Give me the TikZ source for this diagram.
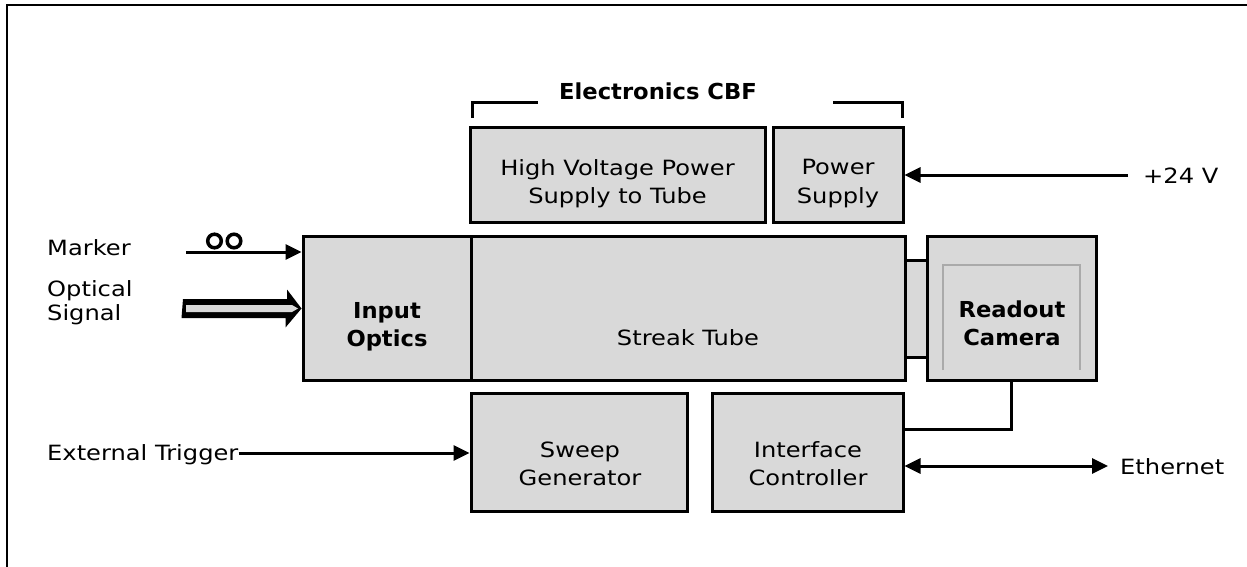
\documentclass[tikz,border=0pt]{standalone}
\usepackage{fontspec}
\setmainfont{DejaVu Sans}
\newfontfamily\rfont{DejaVu Sans}[FakeStretch=1.15]
\newfontfamily\bfont{DejaVu Sans}[FakeStretch=1.03]
\usetikzlibrary{arrows.meta}
\definecolor{boxgray}{RGB}{217,217,217}
\definecolor{framegray}{RGB}{170,170,170}
\begin{document}
\begin{tikzpicture}[x=1pt,y=-1pt,
  blk/.style={draw=black, line width=3pt, fill=boxgray, inner sep=0pt},
  txt/.style={inner sep=0pt, align=center, text depth=5pt, font=\rfont\fontsize{21}{28.5}\selectfont},
  ltxt/.style={inner sep=0pt, align=left, font=\rfont\fontsize{21}{24}\selectfont},
  btxt/.style={inner sep=0pt, align=center, text depth=5pt, font=\bfont\bfseries\fontsize{22}{28}\selectfont},
  wire/.style={line width=3pt},
  arr/.style={wire, -{Triangle[length=16pt,width=15pt]}},
  darr/.style={wire, {Triangle[length=16pt,width=15pt]}-{Triangle[length=16pt,width=15pt]}},
]
\useasboundingbox (0,0) rectangle (1247,567);
% frame
\draw[line width=2.5pt] (1247,5) -- (7,5) -- (7,567);

% blocks
\node[blk, minimum width=295, minimum height=94] (hv) at (617.5,175) {};
\node[blk, minimum width=130, minimum height=94] (ps) at (838,175) {};
\node[blk, minimum width=168, minimum height=144] (io) at (387,308) {};
\node[blk, minimum width=434, minimum height=144] (st) at (688,308) {};
\node[blk, minimum width=22, minimum height=97] (cn) at (916,308.5) {};
\node[blk, minimum width=169, minimum height=144] (rc) at (1011.5,308) {};
\node[blk, minimum width=216, minimum height=118] (sg) at (579,452) {};
\node[blk, minimum width=191, minimum height=118] (ic) at (807.5,452) {};

% inner camera frame
\draw[framegray, line width=1.5pt] (943,370) -- (943,265) -- (1080,265) -- (1080,370);

% texts
\node[txt] (hvt) at (617.5,184) {High Voltage Power\\Supply to Tube};
\node[txt] (pst) at (838,184) {Power\\Supply};
\node[btxt] (iot) at (387,327) {Input\\Optics};
\node[txt, anchor=base] (stt) at (688,345) {Streak Tube};
\node[btxt] (rct) at (1012,326) {Readout\\Camera};
\node[txt] (sgt) at (580,466) {Sweep\\Generator};
\node[txt] (ict) at (808,466) {Interface\\Controller};
\node[btxt, anchor=base, text depth=0pt] (ecbf) at (658,100) {Electronics CBF};

% bracket
\draw[wire] (472,118) -- (472,103) -- (538,103);
\draw[wire] (833,103) -- (902,103) -- (902,118);

% left inputs
\node[ltxt, anchor=base west] (mk) at (47,255) {Marker};
\node[ltxt, anchor=north west] (os) at (47,280) {Optical\\Signal};
\node[ltxt, anchor=base west] (et) at (47,460) {External Trigger};
\coordinate (mkstart) at (186,252);
\draw[arr] (mkstart) -- (mkstart -| io.west);
\draw[line width=3.5pt] (214.5,241) circle (6.8);
\draw[line width=3.5pt] (234,241) circle (6.8);

% optical signal hollow arrow
\coordinate (osstart) at (183,308.5);
\fill[black] (osstart) ++(0,-9.5) -- ++(104,0) -- ++(0,-9.5) -- (io.west |- osstart) -- ++(-16,19) -- ++(0,-9.5) -- ++(-104,0) -- cycle;
\fill[boxgray] (osstart) ++(3,-3.5) -- ++(106,0) -- ++(6,3.5) -- ++(-6,3.5) -- ++(-106,0) -- cycle;

\coordinate (etl) at (et.east |- 0,453);
\draw[arr] (etl) -- (etl -| sg.west);

% right side
\node[ltxt, anchor=base west] (v24) at (1143,183) {+24 V};
\node[ltxt, anchor=base west] (eth) at (1120,474) {Ethernet};
\coordinate (v24l) at (1128,175);
\draw[arr] (v24l) -- (v24l -| ps.east);
\coordinate (ethl) at (1108,466);
\draw[darr] (ethl -| ic.east) -- (ethl);
\coordinate (rcb) at (1011.5,429);
\draw[wire] (rc.south) -- (rcb) -- (rcb -| ic.east);
\end{tikzpicture}
\end{document}
